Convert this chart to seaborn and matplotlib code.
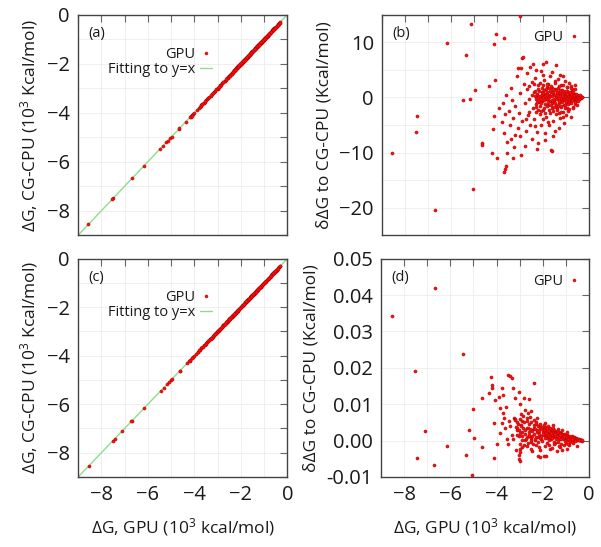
import numpy as np
import pandas as pd
import seaborn as sns
import matplotlib.pyplot as plt
from matplotlib.ticker import MultipleLocator, FormatStrFormatter
from matplotlib.lines import Line2D

# ---- data ----
# panel (b): GPU dG (10^3 kcal/mol) and dG difference to CG-CPU (kcal/mol)
b_sparse = [(-8.57, -10.1), (-7.48, -3.45), (-7.54, -6.2), (-6.70, -20.5), (-6.17, 9.8),
            (-5.49, -0.4), (-5.34, 7.7), (-5.20, -0.3), (-5.14, 13.4), (-5.03, -16.6),
            (-4.98, 1.4), (-4.66, -8.3), (-4.65, -8.7), (-4.36, 2.1), (-4.13, -3.45),
            (-4.10, 3.1), (-4.16, -5.8), (-4.20, -10.0), (-4.04, 11.5), (-4.12, 9.7),
            (-3.71, 10.8), (-4.01, -11.0), (-3.70, -13.5), (-3.67, -12.9), (-3.60, -12.4),
            (-3.00, 14.8)]
b_mid = [(-3.9, -2.0), (-3.8, -4.5), (-3.75, -1.0), (-3.7, -6.5), (-3.65, -3.0), (-3.6, 0.5),
         (-3.55, -8.0), (-3.5, -2.5), (-3.45, -5.0), (-3.4, 1.8), (-3.4, -7.6), (-3.35, -0.5),
         (-3.3, -3.8), (-3.25, -9.0), (-3.2, -1.5), (-3.15, 3.8), (-3.1, -5.5), (-3.1, 5.3),
         (-3.05, -2.8), (-3.0, 0.8), (-3.0, -7.0), (-2.95, 5.3), (-2.9, 7.2), (-2.88, 7.3),
         (-2.9, -4.2), (-2.85, 2.5), (-2.8, -8.9), (-2.8, -1.0), (-2.75, -6.0), (-2.7, 4.4),
         (-2.7, 1.5), (-2.65, -3.2), (-2.6, -0.2), (-2.57, 5.6), (-2.55, -5.0), (-2.5, 2.8),
         (-2.5, -7.5), (-2.45, -2.0), (-2.43, 6.1), (-2.4, 0.9), (-2.4, -4.0), (-2.35, 3.5),
         (-2.3, -1.2), (-2.28, -9.4), (-2.25, -6.2), (-2.2, -8.3), (-2.2, 2.2), (-2.15, -3.0),
         (-2.1, 4.8), (-2.1, -5.0), (-2.05, 1.0), (-2.02, 6.1), (-2.0, -2.2), (-2.0, -4.0),
         (-1.95, 3.2), (-1.9, -6.5), (-1.85, 6.5), (-1.85, -3.5), (-1.8, 2.5), (-1.75, -5.0),
         (-1.7, 3.8), (-1.7, -2.8), (-1.65, -9.5), (-1.6, -9.8), (-1.6, 1.8), (-1.55, -4.2),
         (-1.5, -6.0), (-1.5, 2.9), (-1.45, -3.0), (-1.42, 5.8), (-1.4, -2.0), (-1.35, 3.4),
         (-1.3, -5.5), (-1.27, 4.1), (-1.25, -3.8), (-1.2, 2.3), (-1.15, -2.6), (-1.1, -4.6),
         (-1.05, 3.0), (-1.0, -3.2), (-0.95, 1.9), (-0.9, -2.4), (-0.85, 2.6), (-0.8, -3.6),
         (-0.75, 1.5), (-0.7, -1.8), (-0.62, 2.3), (-0.6, -1.2), (-3.55, -10.0), (-3.3, -11.0),
         (-2.95, -10.5)]
b_core = [(-2.26, 0.6), (-2.19, -0.8), (-2.11, 0.3), (-2.03, -0.6), (-1.97, 1.4), (-1.92, 0.7),
          (-1.87, -0.3), (-1.83, 1.9), (-1.78, -1.3), (-1.75, 0.5), (-1.71, -0.6), (-1.67, 1.0),
          (-1.62, -1.9), (-1.58, 0.6), (-1.53, -0.7), (-1.49, 1.5), (-1.44, -1.4), (-1.4, 0.8),
          (-1.37, -0.2), (-1.33, 1.7), (-1.29, -1.0), (-1.24, 0.6), (-1.21, -1.7), (-1.17, 1.3),
          (-1.13, -0.5), (-1.1, 0.9), (-1.07, -1.4), (-1.03, 0.5), (-0.99, -0.8), (-0.95, 1.2),
          (-0.92, -0.3), (-0.88, 0.8), (-0.85, -1.1), (-0.81, 0.4), (-0.77, -0.6), (-0.74, 0.9),
          (-0.7, -0.4), (-0.67, 0.6), (-0.63, -0.7), (-0.59, 0.3), (-0.56, -0.4), (-0.52, 0.5),
          (-0.49, -0.2), (-0.45, 0.3), (-0.42, -0.3), (-0.39, 0.2), (-0.35, -0.1), (-0.3, 0.1),
          (-2.6, -2.6), (-2.48, 0.4), (-2.62, 2.0), (-2.75, -3.9), (-3.2, -6.8), (-2.35, -5.1),
          (-1.92, -7.8), (-1.58, -7.0), (-1.78, -4.4), (-1.3, -2.8), (-1.15, -3.5), (-2.0, 4.1),
          (-2.3, 5.0), (-1.62, 4.6), (-1.15, 3.8), (-0.95, -2.0), (-0.8, 2.0)]
b_band_x = [-2.36, -2.31, -2.27, -2.22, -2.18, -2.13, -2.08, -2.04, -1.99, -1.95,
            -1.9, -1.86, -1.81, -1.77, -1.72, -1.68, -1.63, -1.59, -1.54, -1.5,
            -1.45, -1.41, -1.36, -1.32, -1.27, -1.23, -1.18, -1.14, -1.09, -1.05,
            -1.0, -0.96, -0.91, -0.87, -0.82, -0.78, -0.73, -0.69, -0.64, -0.6,
            -0.55, -0.5, -0.46, -0.41, -0.37, -0.32,
            -2.33, -2.25, -2.16, -2.1, -2.01, -1.93, -1.84, -1.79, -1.7, -1.61,
            -1.56, -1.48, -1.39, -1.3, -1.25, -1.16, -1.11, -1.02, -0.94, -0.89,
            -0.8, -0.75, -0.66, -0.58, -0.52, -0.44,
            -2.29, -2.2, -2.12, -2.06, -1.97, -1.88, -1.82, -1.74, -1.66, -1.57,
            -1.52, -1.43, -1.34, -1.28, -1.2, -1.13, -1.06, -0.98, -0.92, -0.84,
            -0.77, -0.71, -0.62, -0.56, -0.48, -0.4,
            -2.4, -2.32, -2.24, -2.14, -2.07, -1.98, -1.9, -1.83, -1.73, -1.65,
            -1.58, -1.47, -1.38, -1.29, -1.22, -1.12, -1.04, -0.97, -0.86, -0.79,
            -0.7, -0.63, -0.54]
b_band_y = [0.2, -0.3, 0.4, 0.0, -0.5, 0.3, -0.2, 0.5, 0.1, -0.4,
            0.2, -0.1, 0.4, -0.3, 0.0, 0.3, -0.5, 0.2, -0.2, 0.4,
            0.1, -0.3, 0.3, -0.1, 0.2, -0.4, 0.0, 0.3, -0.2, 0.1,
            0.2, -0.1, 0.3, -0.2, 0.0, 0.2, -0.1, 0.1, 0.0, -0.1,
            0.1, 0.0, 0.1, -0.1, 0.0, 0.0,
            1.1, -0.9, 1.2, -1.1, 0.8, -1.2, 1.0, -0.8, 1.1, -1.0,
            0.9, -1.1, 1.0, -0.7, 0.9, -0.9, 0.8, -0.6, 0.7, -0.8,
            0.6, -0.5, 0.5, -0.4, 0.4, -0.3,
            -1.7, 1.6, -1.5, 1.8, -1.9, 1.5, -1.6, 1.7, -1.4, 1.6,
            -1.8, 1.4, -1.5, 1.3, -1.6, 1.2, -1.3, 1.1, -1.2, 1.0,
            -1.1, 0.9, -0.9, 0.7, -0.6, 0.4,
            2.4, -2.6, -2.2, 2.7, -2.4, 2.2, -2.8, 2.5, -2.3, 2.1,
            -2.5, 2.6, -2.2, 2.0, -2.6, 2.3, -2.0, 1.9, -2.1, 1.8,
            -1.9, 1.5, -1.4]

# panel (d): GPU dG (10^3 kcal/mol) and dG difference to CG-CPU (kcal/mol)
d_sparse = [(-8.54, 0.0343), (-6.68, 0.042), (-5.44, 0.0237), (-7.52, 0.0192), (-7.11, 0.0026),
            (-7.43, -0.0049), (-6.15, -0.0014), (-6.71, -0.0067), (-5.31, -0.0039), (-5.18, 0.0028),
            (-5.0, 0.0087), (-4.98, 0.0007), (-5.08, -0.0095), (-4.61, 0.0117), (-4.62, -0.0017),
            (-4.32, 0.0131), (-4.23, 0.0175), (-4.2, 0.0152), (-4.19, 0.0144), (-4.09, 0.0048),
            (-4.07, 0.0112), (-4.1, -0.0047), (-4.0, -0.0009), (-3.91, 0.0121), (-3.84, 0.009),
            (-3.75, 0.0144), (-3.7, 0.0125), (-3.7, 0.0077), (-3.66, 0.0063), (-3.57, 0.0093),
            (-3.49, 0.0179), (-3.4, 0.0177), (-3.32, 0.0172), (-3.28, 0.0144), (-3.21, 0.0117),
            (-3.02, 0.0134), (-2.99, 0.010), (-2.8, 0.0116), (-2.59, 0.0115), (-2.37, 0.0158),
            (-3.03, -0.005), (-2.99, -0.0056), (-2.99, -0.0024), (-2.97, -0.0032), (-2.2, -0.0042),
            (-2.1, -0.0045), (-1.4, -0.0029), (-0.97, -0.0023), (-0.54, -0.0015)]
d_mid = [(-3.85, 0.0022), (-3.78, 0.0048), (-3.62, 0.0035), (-3.55, 0.0005), (-3.5, -0.001),
         (-3.45, 0.0055), (-3.4, 0.004), (-3.35, 0.0015), (-3.3, 0.0005), (-3.25, 0.0062),
         (-3.2, 0.006), (-3.15, -0.0025), (-3.12, 0.0035), (-3.1, 0.003), (-3.08, 0.0045),
         (-3.05, -0.004), (-2.95, 0.0072), (-2.9, 0.0025), (-2.85, 0.0068), (-2.75, 0.0085),
         (-2.7, 0.0036), (-2.65, 0.0075), (-2.6, 0.0012), (-2.55, 0.0065), (-2.5, 0.0082),
         (-2.45, 0.0028), (-2.4, 0.0057)]
d_core = [(-2.6, 0.0024), (-2.5, 0.0008), (-2.4, 0.0035), (-2.33, 0.0002), (-2.27, 0.0023),
          (-2.2, 0.0009), (-2.14, 0.0034), (-2.07, 0.0004), (-2.0, 0.0024), (-1.94, 0.0015),
          (-1.89, 0.0030), (-1.83, 0.0006), (-1.79, 0.0022), (-1.73, 0.0013), (-1.69, 0.0027),
          (-1.64, 0.0004), (-1.59, 0.0021), (-1.54, 0.0009), (-1.5, 0.0018), (-1.44, 0.0024),
          (-1.4, 0.0006), (-1.35, 0.0017), (-1.3, 0.0005), (-1.25, 0.0020), (-1.2, 0.0011),
          (-1.14, 0.0016), (-1.1, 0.0004), (-1.04, 0.0013), (-1.0, 0.0007), (-0.94, 0.0011),
          (-0.9, 0.0003), (-0.84, 0.0009), (-0.8, 0.0005), (-0.74, 0.0007), (-0.7, 0.0002),
          (-0.64, 0.0006), (-0.6, 0.0003), (-0.55, 0.0004), (-0.5, 0.0001), (-0.45, 0.0003),
          (-0.4, 0.0001), (-0.35, 0.0001), (-0.3, 0.0), (-2.45, -0.0028), (-2.1, -0.0025),
          (-1.7, -0.0022), (-1.25, -0.0018), (-0.85, -0.0012), (-2.75, 0.0003), (-2.95, 0.0042),
          (-3.05, 0.0013), (-2.5, -0.0005), (-1.9, -0.0015), (-1.45, -0.0007), (-1.15, -0.0025),
          (-2.25, 0.0063), (-1.9, 0.0049), (-1.55, 0.0044), (-2.7, 0.0063)]
d_band_x = [-3.2, -3.1, -3.0, -2.9, -2.8, -2.7, -2.6, -2.5, -2.4, -2.3, -2.2, -2.1, -2.0, -1.9,
            -1.8, -1.7, -1.6, -1.5, -1.4, -1.3, -1.2, -1.1, -1.0, -0.9, -0.8, -0.7, -0.6, -0.5,
            -3.15, -3.05, -2.95, -2.85, -2.75, -2.65, -2.55, -2.45, -2.35, -2.25, -2.15, -2.05,
            -1.95, -1.85, -1.75, -1.65, -1.55, -1.45, -1.35, -1.25, -1.15, -1.05, -0.95, -0.85,
            -0.75, -0.65, -0.55, -0.45, -0.35,
            -3.1, -2.98, -2.88, -2.78, -2.68, -2.58, -2.48, -2.38, -2.28, -2.18, -2.08, -1.98,
            -1.88, -1.78, -1.68, -1.58, -1.48, -1.38, -1.28, -1.18, -1.08, -0.98, -0.88, -0.78,
            -0.68, -0.58, -0.48, -0.38,
            -3.0, -2.92, -2.82, -2.72, -2.62, -2.52, -2.42, -2.32, -2.22, -2.12, -2.02, -1.92,
            -1.82, -1.72, -1.62, -1.52, -1.42, -1.32, -1.22, -1.12, -1.02, -0.92, -0.82, -0.72,
            -0.62, -0.52, -0.42, -0.32,
            -2.9, -2.7, -2.5, -2.3, -2.15, -1.95, -1.85, -1.75, -1.6, -1.5, -1.3, -1.2, -1.1,
            -1.0, -0.9, -0.8, -0.7, -0.6,
            -2.28, -2.12, -1.96, -1.86, -1.76, -1.66, -1.56, -1.46, -1.36, -1.26, -1.16, -1.06,
            -0.96]
d_band_y = [0.0058, 0.0052, 0.0060, 0.0055, 0.0050, 0.0053, 0.0047, 0.0050, 0.0044, 0.0046,
            0.0040, 0.0042, 0.0037, 0.0038, 0.0033, 0.0034, 0.0030, 0.0028, 0.0026, 0.0024,
            0.0021, 0.0019, 0.0016, 0.0014, 0.0011, 0.0009, 0.0006, 0.0004,
            0.0038, 0.0030, 0.0041, 0.0034, 0.0029, 0.0036, 0.0031, 0.0027, 0.0033, 0.0030,
            0.0026, 0.0031, 0.0028, 0.0024, 0.0027, 0.0022, 0.0025, 0.0020, 0.0022, 0.0018,
            0.0019, 0.0015, 0.0016, 0.0012, 0.0012, 0.0009, 0.0008, 0.0005, 0.0003,
            0.0015, 0.0020, 0.0012, 0.0018, 0.0010, 0.0016, 0.0014, 0.0019, 0.0011, 0.0017,
            0.0013, 0.0018, 0.0012, 0.0016, 0.0011, 0.0015, 0.0012, 0.0014, 0.0010, 0.0012,
            0.0009, 0.0010, 0.0008, 0.0008, 0.0006, 0.0005, 0.0004, 0.0002,
            -0.0008, 0.0002, -0.0012, 0.0004, -0.0006, 0.0001, -0.0010, 0.0005, -0.0004, 0.0007,
            -0.0002, 0.0006, -0.0007, 0.0003, 0.0008, -0.0003, 0.0005, -0.0005, 0.0004, 0.0006,
            -0.0002, 0.0005, 0.0002, 0.0004, 0.0003, 0.0002, 0.0001, 0.0001,
            -0.0018, -0.0015, -0.0022, -0.0012, -0.0017, -0.0041, -0.0043, -0.0011, -0.0019,
            -0.0009, -0.0014, -0.0008, -0.0012, -0.0006, -0.0009, -0.0004, -0.0006, -0.0002,
            0.0052, 0.0047, 0.0043, 0.0021, 0.0041, 0.0020, 0.0036, 0.0018, 0.0032, 0.0015,
            0.0028, 0.0013, 0.0023]

fit_x = [-9, 0]

panel_labels = ["(a)", "(b)", "(c)", "(d)"]
xlabel = "ΔG, GPU (10$^3$ kcal/mol)"
ylabel_left = "ΔG, CG-CPU (10$^3$ Kcal/mol)"
ylabel_right = "δΔG to CG-CPU (Kcal/mol)"


def make_df(pairs, band_x, band_y):
    xs = [p[0] for p in pairs] + band_x
    ys = [p[1] for p in pairs] + band_y
    df = pd.DataFrame({"gpu": xs, "delta": ys})
    # CG-CPU value in 10^3 kcal/mol
    df["cpu"] = df["gpu"] - df["delta"] / 1000.0
    return df


df_b = make_df(b_sparse + b_mid + b_core, b_band_x, b_band_y)
df_d = make_df(d_sparse + d_mid + d_core, d_band_x, d_band_y)

sns.set_style("white")
plt.rcParams["font.family"] = ["Open Sans", "DejaVu Sans"]
plt.rcParams["mathtext.fontset"] = "custom"
plt.rcParams["mathtext.rm"] = "Open Sans"
plt.rcParams["mathtext.it"] = "Open Sans:italic"
plt.rcParams["text.color"] = "#1a1a1a"
plt.rcParams["axes.labelcolor"] = "#1a1a1a"
plt.rcParams["xtick.labelcolor"] = "#1a1a1a"
plt.rcParams["ytick.labelcolor"] = "#1a1a1a"

RED = "#ff1010"
EDGE = "#b00000"
GREEN = "#8fdc8f"

fig = plt.figure(figsize=(6.01, 5.47), dpi=100)
ax_a = fig.add_axes([0.130, 0.570, 0.348, 0.403])
ax_b = fig.add_axes([0.636, 0.570, 0.344, 0.403])
ax_c = fig.add_axes([0.130, 0.128, 0.348, 0.399])
ax_d = fig.add_axes([0.634, 0.128, 0.346, 0.399])

LEG = dict(frameon=False, markerfirst=False, fontsize=10.5, handlelength=0.85,
           handletextpad=0.3, borderpad=0, loc="upper right")


def style(ax, ymaj, ymin, yfmt=None):
    ax.set_xlim(-9, 0)
    ax.xaxis.set_major_locator(MultipleLocator(2))
    ax.xaxis.set_minor_locator(MultipleLocator(1))
    ax.yaxis.set_major_locator(MultipleLocator(ymaj))
    ax.yaxis.set_minor_locator(MultipleLocator(ymin))
    if yfmt:
        ax.yaxis.set_major_formatter(FormatStrFormatter(yfmt))
    ax.grid(True, which="both", color="#ececec", lw=0.6)
    ax.set_axisbelow(True)
    ax.tick_params(which="both", direction="in", top=True, right=True,
                   length=5, width=0.8, color="#666666", labelsize=14.5, pad=6)
    for s in ax.spines.values():
        s.set_color("#444444")
        s.set_linewidth(1.0)


def point_handle():
    return Line2D([], [], ls="none", marker="o", ms=2.2, color=RED, mec=EDGE, mew=0.3)


def left_panel(ax, df, lab):
    sns.lineplot(x=fit_x, y=fit_x, ax=ax, color=GREEN, lw=1.0, zorder=2)
    sns.scatterplot(data=df, x="gpu", y="cpu", ax=ax, color=RED, edgecolor=EDGE,
                    linewidth=0.35, s=5, zorder=3)
    ax.set_ylim(-9, 0)
    style(ax, 2, 1)
    leg1 = ax.legend([point_handle()], ["GPU"], bbox_to_anchor=(0.676, 0.888), **LEG)
    ax.add_artist(leg1)
    ax.legend([Line2D([], [], color=GREEN, lw=1.0)], ["Fitting to y=x"],
              bbox_to_anchor=(0.676, 0.82), **LEG)
    ax.text(0.05, 0.915, lab, transform=ax.transAxes, fontsize=10.5, va="center")
    ax.set_ylabel(ylabel_left, fontsize=12.5, labelpad=5)


def right_panel(ax, df, lab, ylim, ymaj, ymin, yfmt=None):
    sns.scatterplot(data=df, x="gpu", y="delta", ax=ax, color=RED, edgecolor=EDGE,
                    linewidth=0.35, s=5, zorder=3)
    ax.set_ylim(*ylim)
    style(ax, ymaj, ymin, yfmt)
    ax.legend([point_handle()], ["GPU"], bbox_to_anchor=(0.992, 0.962), **LEG)
    ax.text(0.05, 0.915, lab, transform=ax.transAxes, fontsize=10.5, va="center")
    ax.set_ylabel(ylabel_right, fontsize=12.5, labelpad=5)


left_panel(ax_a, df_b, panel_labels[0])
right_panel(ax_b, df_b, panel_labels[1], (-25, 15), 10, 5)
left_panel(ax_c, df_d, panel_labels[2])
right_panel(ax_d, df_d, panel_labels[3], (-0.01, 0.05), 0.01, 0.01, "%.2f")

for ax in (ax_a, ax_b):
    ax.set_xlabel("")
    ax.tick_params(labelbottom=False)
for ax in (ax_c, ax_d):
    ax.set_xlabel(xlabel, fontsize=12.5, labelpad=8)

fig.savefig("out.png", dpi=100)
